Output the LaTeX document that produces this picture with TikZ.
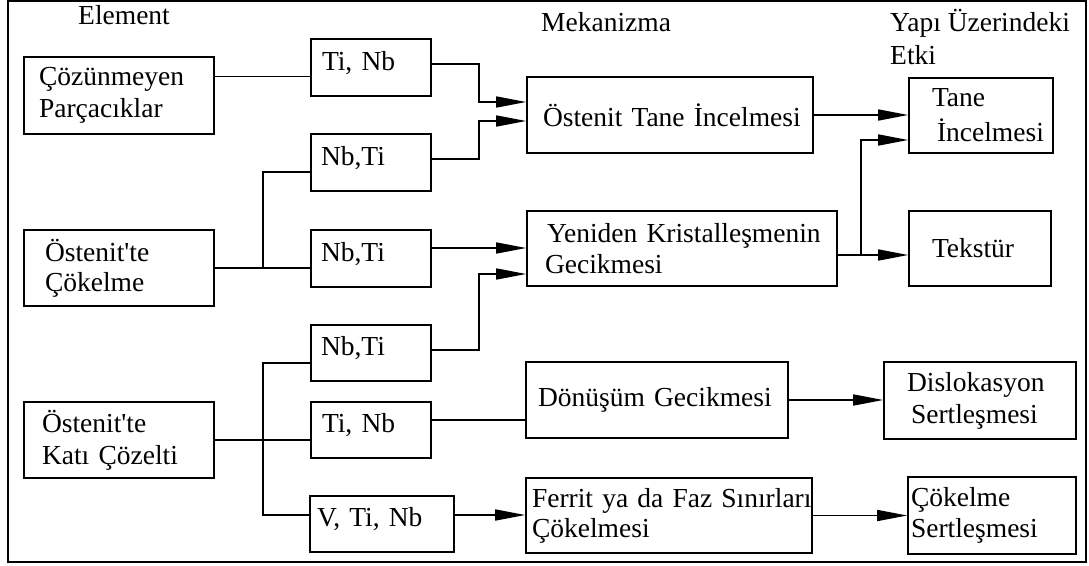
\documentclass[tikz,border=0pt]{standalone}
\usepackage{fontspec}
\setmainfont{Liberation Serif}
\usetikzlibrary{arrows.meta}
\begin{document}
\begin{tikzpicture}[x=1pt,y=-1pt,
  txt/.style={font=\fontsize{27.5}{32}\selectfont},
  bx/.style={txt, draw, line width=1.6pt, inner xsep=0pt, inner ysep=0pt, align=left},
  sm/.style={bx, text height=19pt, text depth=14pt},
  conn/.style={line width=1.6pt},
  arr/.style={conn, -{Triangle[length=30pt,width=11pt]}},
  hdr/.style={txt, inner sep=0pt, anchor=west, align=left}]
\useasboundingbox (0,0) rectangle (1089,565);
\draw[line width=1.6pt] (8,1) rectangle (1086,562);

% headers
\node[hdr] (hElem) at (78,15) {Element};
\node[hdr] (hMek) at (541,22) {Mekanizma};
\node[hdr, font=\fontsize{27.5}{33}\selectfont] (hYapi) at (890,36.5) {Yapı Üzerindeki\\Etki};

% left column
\node[bx, minimum height=77pt, text width=190pt] (coz) at (119,95.5) {\hspace*{15pt}Çözünmeyen\\\hspace*{15pt}Parçacıklar};
\node[bx, minimum height=76pt, text width=190pt, font=\fontsize{27.5}{30}\selectfont] (cok) at (119,268) {\hspace*{21pt}Östenit\textquotesingle te\\\hspace*{21pt}Çökelme};
\node[bx, minimum height=76pt, text width=190pt] (kat) at (119,440) {\hspace*{18pt}Östenit\textquotesingle te\\\hspace*{18pt}Katı Çözelti};

% element boxes
\node[sm, minimum height=57pt, text width=120pt] (b1) at (371,67.5) {\hspace*{11pt}Ti, Nb};
\node[sm, minimum height=57pt, text width=120pt] (b2) at (371,162.5) {\hspace*{10pt}Nb,Ti};
\node[sm, minimum height=57pt, text width=120pt] (b3) at (371,258.5) {\hspace*{10pt}Nb,Ti};
\node[sm, minimum height=56pt, text width=120pt] (b4) at (371,353) {\hspace*{10pt}Nb,Ti};
\node[sm, minimum height=56pt, text width=120pt] (b5) at (371,430) {\hspace*{11pt}Ti, Nb};
\node[sm, minimum height=56pt, text width=144pt] (b6) at (382,524) {\hspace*{7pt}V, Ti, Nb};

% mechanism boxes
\node[bx, minimum height=76pt, text width=286pt] (ost) at (670,115) {\hspace*{16pt}Östenit Tane İncelmesi};
\node[bx, minimum height=75pt, text width=310pt, font=\fontsize{27.5}{31}\selectfont] (yen) at (682,248.5) {\hspace*{20pt}Yeniden Kristalleşmenin\\\hspace*{18pt}Gecikmesi};
\node[bx, minimum height=76pt, text width=262pt] (don) at (657,400) {\hspace*{12pt}Dönüşüm Gecikmesi};
\node[bx, minimum height=75pt, text width=286pt, font=\fontsize{27.5}{30}\selectfont] (fer) at (669,515.5) {\hspace*{6pt}Ferrit ya da Faz Sınırları\\\hspace*{6pt}Çökelmesi};

% effect boxes
\node[bx, minimum height=75pt, text width=144pt, font=\fontsize{27.5}{35}\selectfont] (tane) at (981,115.5) {\hspace*{23pt}Tane\\\hspace*{28pt}İncelmesi};
\node[bx, minimum height=75pt, text width=142pt] (tek) at (980,248.5) {\hspace*{23pt}Tekstür};
\node[bx, minimum height=77pt, text width=192pt] (dis) at (980,400.5) {\hspace*{23pt}Dislokasyon\\\hspace*{27pt}Sertleşmesi};
\node[bx, minimum height=77pt, text width=168pt, font=\fontsize{27.5}{31}\selectfont] (cs) at (992,515.5) {\hspace*{3pt}Çökelme\\\hspace*{3pt}Sertleşmesi};

% connectors: left column to elements
\draw[conn] ([yshift=19pt]coz.east) -- ([yshift=19pt]coz.east -| b1.west);
\draw[conn] (cok.east) -- ++(48pt,0) |- ([yshift=-9.5pt]b2.west);
\draw[conn] (cok.east) -- (cok.east -| b3.west);
\draw[conn] (kat.east) -- ++(48pt,0) |- ([yshift=-10pt]b4.west);
\draw[conn] (kat.east) -- (kat.east -| b5.west);
\draw[conn] (kat.east) -- ++(48pt,0) |- ([yshift=9pt]b6.west);

% elements to mechanisms
\draw[arr] ([yshift=3.5pt]b1.east) -- ++(47pt,0) |- ([yshift=13pt]ost.west);
\draw[arr] ([yshift=3.5pt]b2.east) -- ++(47pt,0) |- ([yshift=-6pt]ost.west);
\draw[arr] ([yshift=10.5pt]b3.east) -- ([yshift=10.5pt]b3.east -| yen.west);
\draw[arr] ([yshift=3pt]b4.east) -- ++(47pt,0) |- ([yshift=-25.5pt]yen.west);
\draw[conn] ([yshift=10pt]b5.east) -- ([yshift=10pt]b5.east -| don.west);
\draw[arr] ([yshift=9pt]b6.east) -- ([yshift=9pt]b6.east -| fer.west);

% mechanisms to effects
\draw[arr] (ost.east) -- (ost.east -| tane.west);
\draw[arr] ([yshift=-6.5pt]yen.east) -- ++(23pt,0) |- ([yshift=-24.5pt]tane.west);
\draw[arr] ([yshift=-6.5pt]yen.east) -- ([yshift=-6.5pt]yen.east -| tek.west);
\draw[arr] (don.east) -- (don.east -| dis.west);
\draw[arr] (fer.east) -- (fer.east -| cs.west);
\end{tikzpicture}
\end{document}
